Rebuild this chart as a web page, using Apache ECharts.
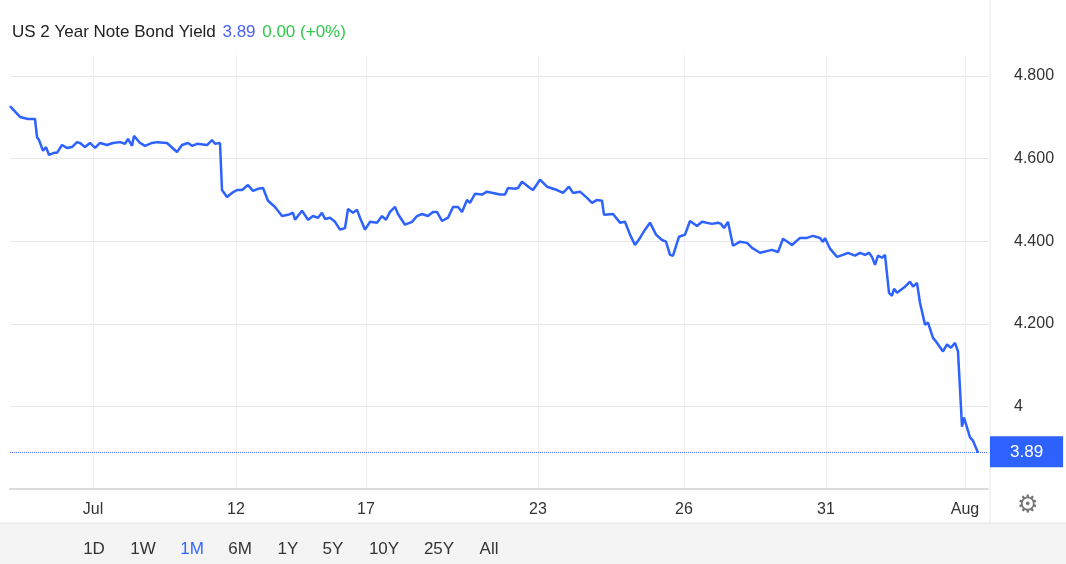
<!DOCTYPE html>
<html>
<head>
<meta charset="utf-8">
<script src="https://cdn.jsdelivr.net/npm/echarts@6/dist/echarts.min.js"></script>
<style>
html,body{margin:0;padding:0;background:#fff;}
#chart{width:1066px;height:564px;}
</style>
</head>
<body>
<div id="chart"></div>
<script>
// time index (position along the month) and yield
var times = [10,20,28,35,37,39,43,46,49,54,57,62,67,72,77,80,85,90,95,100,107,113,120,125,128,132,134,140,145,152,157,167,177,182,188,192,197,207,212,215,220,
	222,227,232,237,242,248,253,258,263,268,275,282,288,293,295,302,308,313,318,322,325,330,335,340,345,348,353,357,360,365,370,377,382,386,390,395,398,405,412,417,422,428,433,437,442,448,453,458,462,467,470,475,482,487,493,500,505,508,515,518,522,
	530,533,540,547,557,563,569,573,580,587,592,597,602,604,613,620,625,630,635,640,645,650,656,662,666,670,673,679,685,690,697,702,712,718,721,724,728,733,740,747,752,760,772,778,783,792,800,807,813,820,823,825,830,837,843,848,855,860,865,869,872,875,878,882,
	885,889,892,894,897,905,910,913,917,920,925,928,933,936,943,947,951,955,958,960,962,964,970,973,978];
var yields = [4.727,4.701,4.696,4.696,4.652,4.645,4.619,4.628,4.609,4.614,4.614,4.633,4.626,4.628,4.640,4.638,4.628,4.638,4.626,4.638,4.633,4.638,4.640,4.636,4.648,4.631,4.655,4.638,4.631,4.638,4.640,4.638,4.616,4.633,4.638,4.631,4.636,4.633,4.645,4.636,4.638,
	4.524,4.507,4.517,4.524,4.524,4.536,4.522,4.527,4.529,4.498,4.483,4.461,4.464,4.469,4.452,4.474,4.452,4.461,4.457,4.469,4.454,4.457,4.447,4.428,4.432,4.478,4.469,4.476,4.457,4.428,4.447,4.445,4.461,4.452,4.471,4.483,4.466,4.440,4.447,4.461,4.466,4.461,4.471,4.471,4.449,4.457,4.483,4.483,4.471,4.500,4.493,4.515,4.513,4.520,4.517,4.513,4.513,4.529,4.527,4.529,4.544,
	4.529,4.524,4.549,4.532,4.524,4.517,4.532,4.517,4.520,4.505,4.493,4.500,4.498,4.464,4.466,4.445,4.447,4.416,4.391,4.408,4.428,4.445,4.416,4.403,4.399,4.367,4.365,4.411,4.416,4.449,4.437,4.447,4.442,4.445,4.442,4.432,4.447,4.389,4.399,4.396,4.384,4.372,4.379,4.374,4.406,4.391,4.408,4.408,4.413,4.408,4.398,4.408,4.382,4.362,4.367,4.372,4.365,4.372,4.367,4.372,4.362,4.343,4.365,4.360,4.367,
	4.275,4.268,4.285,4.275,4.290,4.302,4.290,4.299,4.251,4.198,4.203,4.166,4.157,4.133,4.150,4.142,4.154,4.133,4.133,3.951,3.973,3.925,3.917,3.888,3.890];
var tickTimes = [93,236,366,538,684,826,965];
var tickLabels = ['Jul','12','17','23','26','31','Aug'];
var lastValue = 3.89;
var ranges = ['1D','1W','1M','6M','1Y','5Y','10Y','25Y','All'];

var points = [];
for(var i = 0; i < times.length; i++){
	points.push([times[i], yields[i]]);
}

var rangeText = [];
var rx = [94,143,192,240,288,333,384,439,489];
for(var i = 0; i < ranges.length; i++){
	rangeText.push({
		type:'text', x:rx[i], y:549,
		style:{text:ranges[i], fill:ranges[i]=='1M'?'#3366ff':'#333', font:'17px "Liberation Sans", Arial', textAlign:'center', textVerticalAlign:'middle'}
	});
}

var vLines = [];
for(var i = 0; i < tickTimes.length; i++){
	vLines.push({xAxis:tickTimes[i]});
}

var myChart = echarts.init(document.getElementById('chart'));
var option = {
	animation:false,
	grid:{left:10, right:78, top:55, bottom:75},
	xAxis:{
		type:'value', min:10, max:988,
		axisLine:{show:true, lineStyle:{color:'#dcdcdc', width:2}},
		axisTick:{show:false},
		splitLine:{show:false},
		axisLabel:{
			customValues:tickTimes, color:'#333', fontSize:16, margin:13,
			fontFamily:'"Liberation Sans", Arial',
			formatter:function(v){ return tickLabels[tickTimes.indexOf(v)]; }
		}
	},
	yAxis:{
		type:'value', position:'right', min:3.8, max:4.851, interval:0.2,
		axisLine:{show:false}, axisTick:{show:false},
		splitLine:{lineStyle:{color:'#e6e6e6'}, showMaxLine:false},
		axisLabel:{
			color:'#333', fontSize:16, margin:26, fontFamily:'"Liberation Sans", Arial',
			showMaxLabel:false,
			formatter:function(v){
				if(v < 3.9) return '';
				if(Math.abs(v-4) < 0.001) return '4';
				return v.toFixed(3);
			}
		}
	},
	series:[{
		type:'line', data:[], silent:true, z:0,
		markLine:{
			symbol:'none', silent:true, label:{show:false}, z:0,
			lineStyle:{color:'#eef0f4', type:'solid', width:1},
			data:vLines
		}
	},{
		type:'line', data:points, showSymbol:false, z:5,
		lineStyle:{color:'#2e62ff', width:2.5},
		markLine:{
			symbol:'none', silent:true, z:4,
			lineStyle:{color:'#4a6cff', type:'dotted', width:1},
			label:{
				position:'end', distance:2, color:'#fff', backgroundColor:'#2e62ff',
				fontSize:17, fontFamily:'"Liberation Sans", Arial',
				padding:[7,20,7,20], formatter:'3.89'
			},
			data:[{yAxis:lastValue}]
		}
	}],
	graphic:[
		{type:'text', left:12, top:24, style:{
			rich:{a:{fill:'#222', fontSize:17, fontFamily:'"Liberation Sans", Arial'}, b:{fill:'#4b63f5', fontSize:17, fontFamily:'"Liberation Sans", Arial'}, c:{fill:'#2fc84b', fontSize:17, fontFamily:'"Liberation Sans", Arial'}},
			text:'{a|US 2 Year Note Bond Yield}  {b|3.89}  {c|0.00 (+0%)}'
		}},
		{type:'line', shape:{x1:990, y1:0, x2:990, y2:522}, style:{stroke:'#e6e6e6', lineWidth:1}},
		{type:'rect', shape:{x:0, y:523, width:1066, height:41}, style:{fill:'#f4f4f4'}},
		{type:'line', shape:{x1:0, y1:523, x2:1066, y2:523}, style:{stroke:'#e4e4e4', lineWidth:1}},
		{type:'text', left:1017, top:494, style:{text:'\u2699', fill:'#777', font:'24px "DejaVu Sans"'}}
	].concat(rangeText)
};
myChart.setOption(option);
</script>
</body>
</html>
